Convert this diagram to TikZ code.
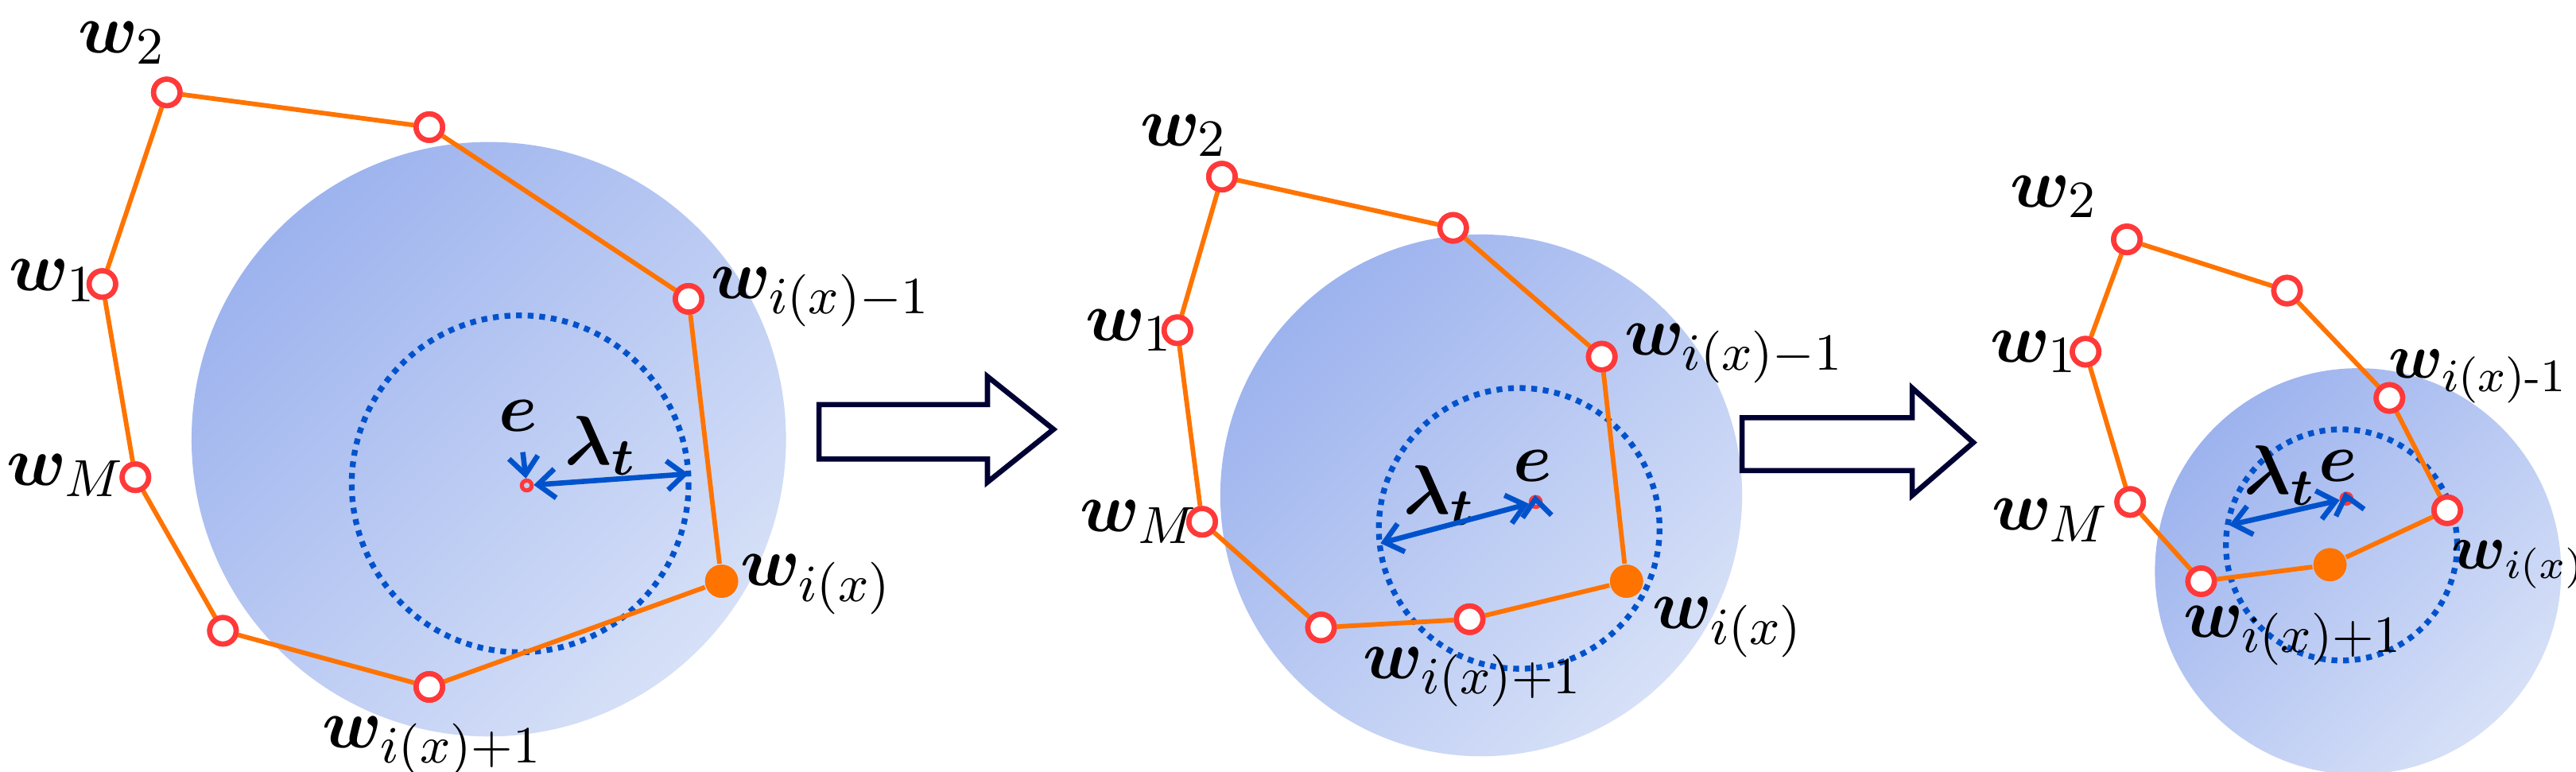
\documentclass[tikz,border=0pt]{standalone}
\usepackage{bm}
\usetikzlibrary{arrows.meta}
\usepackage{amsmath}
\newcommand\mn{\text{-}}
\begin{document}
\begin{tikzpicture}[x=0.01cm,y=-0.01cm,font=\fontsize{12.5}{14}\selectfont,
 >={Straight Barb[length=3pt,width=5pt]},
 pt/.style={circle,draw=red!70!pink,line width=0.9pt,fill=white,minimum size=0.16cm,inner sep=0},
 fpt/.style={circle,fill=orange!90!red,minimum size=0.2cm,inner sep=0},
 ept/.style={circle,draw=red!70!pink,line width=0.7pt,fill=none,minimum size=0.06cm,inner sep=0},
 edge/.style={draw=orange!90!red,line width=0.8pt},
 dot/.style={draw=blue!60!cyan!80!black,densely dotted,line width=1pt},
 bl/.style={draw=blue!60!cyan!80!black,line width=0.9pt},
 lw/.style={anchor=west,inner sep=0},
 barr/.style={draw=black!80!blue,line width=0.9pt,fill=white}]
\useasboundingbox (0,0) rectangle (1560,467.5);
\definecolor{cA}{HTML}{9DB3EE}\definecolor{cB}{HTML}{D6E0F7}
\tikzset{big/.style={top color=cA,bottom color=cB,shading angle=45}}
% panel 1
\shade[big] (296,266) circle (180);
\draw[dot] (315,293) circle (102);
\node[pt] (a1) at (62,172) {};
\node[pt] (a2) at (101,56) {};
\node[pt] (a3) at (260,77) {};
\node[pt] (a4) at (417,181) {};
\node[fpt] (a5) at (437,352) {};
\node[pt] (a6) at (260,416) {};
\node[pt] (a7) at (135,382) {};
\node[pt] (a8) at (82,289) {};
\draw[edge] (a1)--(a2)--(a3)--(a4)--(a5)--(a6)--(a7)--(a8)--(a1);
\foreach \n in {1,...,8}{\node[pt] at (a\n) {};}
\node[fpt] at (a5) {};
\node[ept] (e1) at (319,294) {};
\node (le1) at (314,252) {$\bm{e}$};
\node (ll1) at (364,270) {$\bm{\lambda_t}$};
\coordinate (r1) at (417,287);
\draw[bl,->] (le1) -- (e1);
\draw[bl,<->] (e1) -- (r1);
\node (t2) at (74,26) {$\bm{w}_2$};
\node (t1) at (32,170) {$\bm{w}_1$};
\node (tM) at (40,288) {$\bm{w}_M$};
\node[lw] (ti1) at (430,180) {$\bm{w}_{i(x)-1}$};
\node[lw] (ti) at (448,354) {$\bm{w}_{i(x)}$};
\node (ti2) at (262,452) {$\bm{w}_{i(x)+1}$};
\draw[barr] (496,245) -- (598,245) -- (598,228) -- (638,260) -- (598,292) -- (598,278) -- (496,278) -- cycle;
% panel 2
\shade[big] (897,300) circle (158);
\draw[dot] (920,320) circle (85);
\node[pt] (b1) at (713,200) {};
\node[pt] (b2) at (740,107) {};
\node[pt] (b3) at (880,138) {};
\node[pt] (b4) at (970,216) {};
\node[fpt] (b5) at (985,352) {};
\node[pt] (b6) at (890,375) {};
\node[pt] (b7) at (800,380) {};
\node[pt] (b8) at (728,316) {};
\draw[edge] (b1)--(b2)--(b3)--(b4)--(b5)--(b6)--(b7)--(b8)--(b1);
\foreach \n in {1,...,8}{\node[pt] at (b\n) {};}
\node[fpt] at (b5) {};
\node[ept] (e2) at (930,304) {};
\node (le2) at (928,282) {$\bm{e}$};
\node (ll2) at (872,300) {$\bm{\lambda_t}$};
\coordinate (r2) at (836,329);
\draw[bl,->] (le2) -- (e2);
\draw[bl,<->] (e2) -- (r2);
\node (u2) at (717,82) {$\bm{w}_2$};
\node (u1) at (684,200) {$\bm{w}_1$};
\node (uM) at (690,316) {$\bm{w}_M$};
\node[lw] (ui1) at (983,214) {$\bm{w}_{i(x)-1}$};
\node[lw] (ui) at (1000,380) {$\bm{w}_{i(x)}$};
\node (ui2) at (892,410) {$\bm{w}_{i(x)+1}$};
\draw[barr] (1055,253) -- (1158,253) -- (1158,235) -- (1195,268) -- (1158,300) -- (1158,285) -- (1055,285) -- cycle;
% panel 3
\shade[big] (1428,346) circle (123);
\draw[dot] (1418,330) circle (70);
\node[pt] (c1) at (1263,213) {};
\node[pt] (c2) at (1288,145) {};
\node[pt] (c3) at (1385,176) {};
\node[pt] (c4) at (1447,241) {};
\node[pt] (c5) at (1482,309) {};
\node[fpt] (c6) at (1411,342) {};
\node[pt] (c7) at (1333,352) {};
\node[pt] (c8) at (1290,304) {};
\draw[edge] (c1)--(c2)--(c3)--(c4)--(c5)--(c6)--(c7)--(c8)--(c1);
\foreach \n in {1,...,5,7,8}{\node[pt] at (c\n) {};}
\node[fpt] at (c6) {};
\node[ept] (e3) at (1421,302) {};
\node (le3) at (1416,282) {$\bm{e}$};
\node (ll3) at (1381,288) {$\bm{\lambda_t}$};
\coordinate (r3) at (1350,318);
\draw[bl,->] (le3) -- (e3);
\draw[bl,<->] (e3) -- (r3);
\node (v2) at (1244,119) {$\bm{w}_2$};
\node (v1) at (1232,213) {$\bm{w}_1$};
\node (vM) at (1242,315) {$\bm{w}_M$};
\node[lw,font=\fontsize{11}{13}\selectfont] (vi1) at (1446,228) {$\bm{w}_{i(x)\mn1}$};
\node[lw,font=\fontsize{10.5}{12}\selectfont] (vi) at (1484,342) {$\bm{w}_{i(x)}$};
\node (vi2) at (1389,385) {$\bm{w}_{i(x)+1}$};
\end{tikzpicture}
\end{document}
